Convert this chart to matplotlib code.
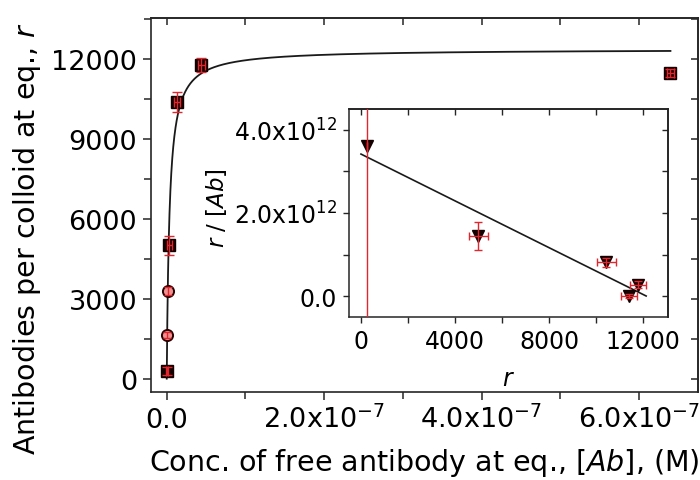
import numpy as np
import matplotlib
matplotlib.use('Agg')
import matplotlib.pyplot as plt
from matplotlib.ticker import MultipleLocator, FixedLocator, NullFormatter

plt.rcParams['font.family'] = ['DejaVu Sans']
plt.rcParams['mathtext.fontset'] = 'dejavusans'

# ---------------- data: main plot ----------------
sq_conc = [6.9e-11, 3.45e-9, 1.29e-8, 4.4e-8, 6.4e-7]
sq_r = [300, 5000, 10400, 11780, 11480]
sq_r_err = [150, 375, 375, 250, 150]
sq_conc_err = [1.0e-9, 3.0e-9, 4.0e-9, 4.0e-9, 4.0e-9]

circ_conc = [5.4e-10, 1.27e-9]
circ_r = [1650, 3300]
circ_r_err = [120, 150]

# Langmuir fit parameters
fit_rmax = 12370
fit_K = 2.87e8
fit_conc_max = 6.4e-7

main_xticks = [0, 2e-7, 4e-7, 6e-7]
main_xticklabels = ['0.0', r'2.0x10$^{-7}$', r'4.0x10$^{-7}$', r'6.0x10$^{-7}$']
main_yticks = [0, 3000, 6000, 9000, 12000]
main_yticklabels = ['0', '3000', '6000', '9000', '12000']

# ---------------- data: inset (Scatchard) ----------------
sc_r = [250, 4990, 10430, 11400, 11790]
sc_y = [3.61e12, 1.45e12, 0.81e12, 0.0, 0.27e12]
sc_r_err = [0, 400, 400, 350, 350]
sc_y_err = [10e12, 0.33e12, 0.10e12, 0.05e12, 0.08e12]
line_r = [0, 12130]
line_y = [3.42e12, 0.0]

inset_xticks = [0, 4000, 8000, 12000]
inset_xticklabels = ['0', '4000', '8000', '12000']
inset_yticks = [0, 2e12, 4e12]
inset_yticklabels = ['0.0', r'2.0x10$^{12}$', r'4.0x10$^{12}$']

# ---------------- styling ----------------
W, H = 700, 481
fig = plt.figure(figsize=(W / 100, H / 100), dpi=100)
spine_col = '#262626'
err_col = '#e3262e'
mark_col = '#140000'

def px_axes(l, r, t, b):
    return fig.add_axes([l / W, (H - b) / H, (r - l) / W, (b - t) / H])

ax = px_axes(151, 698, 19, 393)
ax.set_xlim(-2.0e-8, 6.75e-7)
ax.set_ylim(-500, 13540)

# fitted curve
c = np.concatenate([np.linspace(0, 5e-8, 400), np.linspace(5e-8, fit_conc_max, 400)])
ax.plot(c, fit_rmax * fit_K * c / (1 + fit_K * c), color='#1a1a1a', lw=1.3, zorder=2)

ax.plot(sq_conc, sq_r, 's', ms=8.6, mfc=mark_col, mec=mark_col, zorder=3)
ax.plot(circ_conc, circ_r, 'o', ms=8.0, mfc='#f09090', mec='#2a0000', mew=1.4, zorder=3)
ax.errorbar(sq_conc, sq_r, yerr=sq_r_err, xerr=sq_conc_err, fmt='none',
            ecolor=err_col, elinewidth=1.0, capsize=3.6, capthick=1.0, zorder=4)
ax.errorbar(circ_conc, circ_r, yerr=circ_r_err, fmt='none',
            ecolor=err_col, elinewidth=1.0, capsize=3.0, capthick=1.0, zorder=4)

ax.xaxis.set_major_locator(FixedLocator(main_xticks))
ax.set_xticklabels(main_xticklabels)
ax.xaxis.set_minor_locator(MultipleLocator(1e-7))
ax.yaxis.set_major_locator(FixedLocator(main_yticks))
ax.set_yticklabels(main_yticklabels)
ax.yaxis.set_minor_locator(MultipleLocator(1500))
ax.tick_params(axis='both', which='major', direction='out', length=6, width=1.1,
               color=spine_col, labelsize=19.5, pad=4)
ax.tick_params(axis='both', which='minor', direction='out', length=5, width=1.1,
               color=spine_col)
ax.tick_params(axis='x', which='major', pad=19)
for lbl in ax.get_xticklabels():
    lbl.set_verticalalignment('baseline')
for s in ax.spines.values():
    s.set_linewidth(1.2)
    s.set_color(spine_col)

secx = ax.secondary_xaxis('top')
secx.xaxis.set_major_locator(MultipleLocator(1e-7))
secx.xaxis.set_major_formatter(NullFormatter())
secx.tick_params(direction='in', length=5, width=1.1, color=spine_col)
secx.spines['top'].set_linewidth(1.2)
secx.spines['top'].set_color(spine_col)
secy = ax.secondary_yaxis('right')
secy.yaxis.set_major_locator(MultipleLocator(1500))
secy.yaxis.set_major_formatter(NullFormatter())
secy.tick_params(direction='in', length=5, width=1.1, color=spine_col)
secy.spines['right'].set_linewidth(1.2)
secy.spines['right'].set_color(spine_col)

ax.set_xlabel(r'Conc. of free antibody at eq., [$\mathit{Ab}$], (M)', fontsize=20.5)
ax.xaxis.set_label_coords(0.5, -0.145)
ax.set_ylabel(r'Antibodies per colloid at eq., $\mathit{r}$', fontsize=20.5)
ax.yaxis.set_label_coords(-0.197, 0.412)

# ---------------- inset ----------------
ai = px_axes(349, 668, 110, 318)
ai.set_xlim(-510, 13060)
ai.set_ylim(-0.506e12, 4.506e12)
ai.plot(line_r, line_y, color='#1a1a1a', lw=1.2, zorder=2)
ai.plot(sc_r, sc_y, 'v', ms=9, mfc=mark_col, mec=mark_col, zorder=3)
ai.errorbar(sc_r, sc_y, yerr=sc_y_err, xerr=sc_r_err, fmt='none',
            ecolor=err_col, elinewidth=1.0, capsize=3.0, capthick=1.0, zorder=4)

ai.xaxis.set_major_locator(FixedLocator(inset_xticks))
ai.set_xticklabels(inset_xticklabels)
ai.xaxis.set_minor_locator(MultipleLocator(2000))
ai.yaxis.set_major_locator(FixedLocator(inset_yticks))
ai.set_yticklabels(inset_yticklabels)
ai.yaxis.set_minor_locator(MultipleLocator(1e12))
ai.tick_params(axis='both', which='major', direction='out', length=4.5, width=1.0,
               color=spine_col, labelsize=17, pad=4)
ai.tick_params(axis='both', which='minor', direction='out', length=4, width=1.0,
               color=spine_col)
for s in ai.spines.values():
    s.set_linewidth(1.1)
    s.set_color(spine_col)
sxi = ai.secondary_xaxis('top')
sxi.xaxis.set_major_locator(MultipleLocator(2000))
sxi.xaxis.set_major_formatter(NullFormatter())
sxi.tick_params(direction='in', length=4, width=1.0, color=spine_col)
sxi.spines['top'].set_linewidth(1.1)
syi = ai.secondary_yaxis('right')
syi.yaxis.set_major_locator(MultipleLocator(1e12))
syi.yaxis.set_major_formatter(NullFormatter())
syi.tick_params(direction='in', length=4, width=1.0, color=spine_col)
syi.spines['right'].set_linewidth(1.1)

ai.set_xlabel(r'$\mathit{r}$', fontsize=17)
ai.xaxis.set_label_coords(0.5, -0.235)
ai.set_ylabel(r'$\mathit{r}$ / [$\mathit{Ab}$]', fontsize=16.5)
ai.yaxis.set_label_coords(-0.375, 0.529)

fig.savefig('out.png', dpi=100)
